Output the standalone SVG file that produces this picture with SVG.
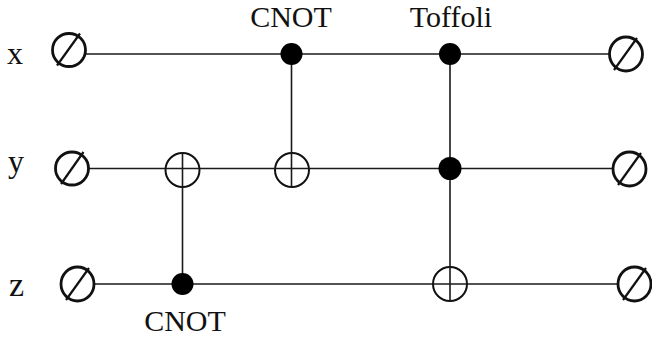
<svg xmlns="http://www.w3.org/2000/svg" width="652" height="338" viewBox="0 0 652 338">
<style>
.bg{fill:#fff}
.wire{stroke:#1a1a1a;stroke-width:1.6;fill:none}
.ctl{stroke:#1a1a1a;stroke-width:1.6;fill:none}
.null{stroke:#111;stroke-width:2.8;fill:none}
.tgt{stroke:#111;stroke-width:2;fill:#fff}
.dot{fill:#000}
.lbl{font-family:"Liberation Serif","Times New Roman",serif;fill:#111;font-size:32px}
.gl{font-size:30px}
</style>
<rect class="bg" x="0" y="0" width="652" height="338"/>
<g id="connectors">
<line class="wire" x1="86" y1="54" x2="609" y2="54"/>
<line class="wire" x1="89" y1="168.5" x2="613" y2="168.5"/>
<line class="wire" x1="95" y1="284" x2="618" y2="284"/>
<line class="ctl" x1="182.5" y1="153" x2="182.5" y2="284"/>
<line class="ctl" x1="291.5" y1="54" x2="291.5" y2="187"/>
<line class="ctl" x1="450" y1="54" x2="450" y2="301"/>
</g>
<g id="label-x"><text class="lbl" x="7" y="64">x</text></g>
<g id="label-y"><text class="lbl" x="8" y="172">y</text></g>
<g id="label-z"><text class="lbl" x="9" y="296" style="font-size:34px">z</text></g>
<g id="in-x"><ellipse class="null" cx="69" cy="50" rx="16.5" ry="16.5"/><line class="null" x1="57" y1="65.5" x2="80" y2="33.5" style="stroke-width:2.2"/></g>
<g id="in-y"><ellipse class="null" cx="72" cy="168.5" rx="16.5" ry="16.5"/><line class="null" x1="61" y1="184" x2="83.5" y2="152" style="stroke-width:2.2"/></g>
<g id="in-z"><ellipse class="null" cx="77.5" cy="284" rx="16.5" ry="17"/><line class="null" x1="66" y1="300" x2="89" y2="268" style="stroke-width:2.2"/></g>
<g id="out-x"><ellipse class="null" cx="626" cy="54" rx="16.5" ry="17"/><line class="null" x1="614" y1="70" x2="637" y2="38" style="stroke-width:2.2"/></g>
<g id="out-y"><ellipse class="null" cx="629.5" cy="169" rx="16.5" ry="17"/><line class="null" x1="618" y1="185" x2="641" y2="153" style="stroke-width:2.2"/></g>
<g id="out-z"><ellipse class="null" cx="634.5" cy="284" rx="16.5" ry="17"/><line class="null" x1="623" y1="300" x2="646" y2="268" style="stroke-width:2.2"/></g>
<g id="cnot1">
<circle class="tgt" cx="182.5" cy="170" r="17"/>
<line class="ctl" x1="182.5" y1="153" x2="182.5" y2="187"/>
<line class="ctl" x1="165.5" y1="168.5" x2="199.5" y2="168.5"/>
<circle class="dot" cx="182.5" cy="284" r="11"/>
<text class="lbl gl" x="185" y="331" text-anchor="middle">CNOT</text>
</g>
<g id="cnot2">
<circle class="dot" cx="291.5" cy="54" r="11"/>
<circle class="tgt" cx="292" cy="170" r="17"/>
<line class="ctl" x1="291.5" y1="153" x2="291.5" y2="187"/>
<line class="ctl" x1="275" y1="168.5" x2="309" y2="168.5"/>
<text class="lbl gl" x="291" y="27" text-anchor="middle">CNOT</text>
</g>
<g id="toffoli">
<circle class="dot" cx="450" cy="54" r="11"/>
<circle class="dot" cx="450" cy="168.5" r="11.5"/>
<circle class="tgt" cx="450" cy="284" r="17"/>
<line class="ctl" x1="450" y1="267" x2="450" y2="301"/>
<line class="ctl" x1="433" y1="284" x2="467" y2="284"/>
<text class="lbl gl" x="451" y="27" text-anchor="middle">Toffoli</text>
</g>
</svg>
